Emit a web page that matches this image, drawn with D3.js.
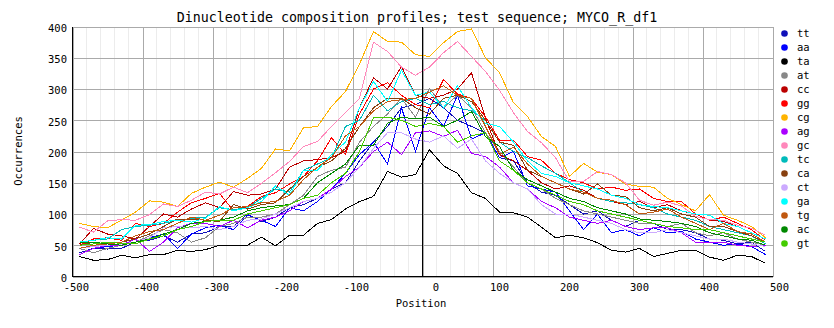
<!DOCTYPE html>
<html>
<head>
<meta charset="utf-8">
<script src="https://cdn.jsdelivr.net/npm/d3@7"></script>
<style>
  html, body { margin: 0; padding: 0; background: #fff; }
  svg { display: block; }
  text { font-family: "DejaVu Sans Mono", "Liberation Mono", monospace; fill: #000; }
</style>
</head>
<body>
<svg id="chart" width="834" height="328"></svg>
<script>
// Window centres (bp relative to the reference point)
const positions = [-490,-470,-450,-430,-410,-390,-370,-350,-330,-310,
                   -290,-270,-250,-230,-210,-190,-170,-150,-130,-110,
                   -90,-70,-50,-30,-10,10,30,50,70,90,
                   110,130,150,170,190,210,230,250,270,290,
                   310,330,350,370,390,410,430,450,470,490];

const dinucleotides = ["tt","aa","ta","at","cc","gg","cg","ag","gc","tc","ca","ct","ga","tg","ac","gt"];
const colors = ["#1010B8","#0000FF","#000000","#888888","#BB0000","#FF0000","#FFB400","#AA00FF",
                "#FF88BB","#00BBBB","#884010","#CCAAFF","#00FFFF","#C05810","#008800","#44CC00"];

// Occurrences per window, one array per dinucleotide
const tt = [38,45,44,45,55,58,65,55,68,70, 80,80,100,88,95,110,115,125,140,150, 185,215,240,270,275,285,270,250,240,230, 190,185,150,135,130,115,100,105,90,80, 90,85,75,75,70,60,58,52,55,40];
const aa = [35,45,48,50,55,62,68,45,68,78, 82,75,98,90,80,110,105,120,140,165, 195,215,180,270,200,270,240,290,220,230, 190,200,145,140,135,105,75,100,70,75, 65,78,70,72,60,55,50,52,48,35];
const ta = [32,26,27,34,30,35,35,42,40,43, 50,49,50,63,49,66,66,85,91,108, 120,128,168,159,163,203,177,165,134,125, 103,102,95,79,62,66,62,54,42,39, 45,32,37,42,42,31,26,34,32,21];
const at = [45,38,45,50,55,65,75,70,55,62, 80,85,95,95,100,115,130,160,170,175, 215,240,260,285,255,301,270,290,270,230, 200,175,150,140,125,115,105,100,95,90, 85,85,80,85,70,65,70,60,55,50];
const cc = [52,77,68,65,60,80,100,95,108,118, 110,136,130,132,140,175,185,187,190,200, 270,318,300,336,290,285,290,300,326,253, 195,185,170,150,140,145,138,125,120,115, 120,110,115,105,100,90,88,80,70,60];
const gg = [50,60,62,58,85,80,85,103,118,125, 133,105,112,128,134,148,160,185,222,195, 260,300,310,290,275,270,315,292,285,255, 218,218,192,186,165,155,150,140,143,138, 140,125,120,120,100,90,95,85,75,58];
const cg = [85,80,78,90,103,121,119,112,133,143, 151,143,157,173,204,201,238,240,272,296, 340,392,376,375,355,352,374,392,396,350, 326,278,256,224,208,160,181,167,163,148, 144,143,125,115,105,131,98,90,80,62];
const ag = [35,45,50,50,60,40,55,78,85,85, 80,90,78,90,95,105,120,125,140,160, 175,200,215,195,230,233,224,234,197,192, 175,150,140,120,110,95,90,85,90,80, 75,78,78,70,55,55,55,50,48,50];
const gc = [79,71,89,91,90,99,116,112,122,135, 132,143,134,149,166,184,208,216,240,262, 285,375,360,335,322,335,358,376,352,328, 298,262,232,214,190,152,152,168,163,150, 122,114,119,113,96,91,90,82,77,66];
const tc = [55,58,60,75,80,82,85,90,93,95, 110,107,110,125,140,135,170,180,190,240, 250,290,265,280,285,275,280,270,265,250, 215,200,190,177,165,150,135,125,120,118, 115,110,100,95,90,80,75,70,65,52];
const ca = [50,55,52,55,60,68,80,92,92,90, 88,115,108,115,118,140,160,175,185,205, 240,270,285,285,270,260,285,290,280,250, 215,210,170,160,150,140,132,148,130,128, 110,105,110,100,95,80,80,72,65,55];
const ct = [45,48,50,52,55,62,78,80,78,80, 75,80,90,92,100,110,120,125,135,150, 175,205,230,230,220,215,225,205,220,185, 165,150,140,115,100,100,95,90,85,75, 70,70,75,70,65,60,60,55,52,48];
const ga = [55,58,62,60,82,83,88,90,87,93, 112,105,110,120,145,130,170,170,195,215, 270,312,280,330,290,295,270,305,270,245, 240,215,185,165,160,150,145,140,130,125, 115,112,110,105,100,98,85,80,70,60];
const tg = [45,50,52,55,65,72,75,85,95,90, 98,110,112,118,120,130,155,175,190,225, 240,265,280,283,285,295,305,290,285,240, 195,207,180,160,150,140,135,125,122,115, 100,103,108,95,85,75,85,72,68,55];
const ac = [55,55,52,50,55,60,68,75,85,88, 90,95,105,110,113,115,125,150,165,180, 210,210,245,255,252,255,240,250,264,224, 208,170,155,145,135,125,120,110,105,100, 92,90,88,85,80,70,65,60,58,50];
const gt = [50,52,55,53,52,60,65,75,80,88, 90,90,100,105,110,115,125,130,150,165, 200,254,255,250,240,245,240,215,225,230, 185,170,150,140,130,120,115,105,100,95, 90,85,80,78,75,75,70,65,60,55];

const seriesValues = [tt,aa,ta,at,cc,gg,cg,ag,gc,tc,ca,ct,ga,tg,ac,gt];

const xTicks = [-500,-400,-300,-200,-100,0,100,200,300,400,500];
const yTicks = [0,50,100,150,200,250,300,350,400];
const title = "Dinucleotide composition profiles; test sequence; MYCO_R_df1";

const svg = d3.select("#chart");
const x = d3.scaleLinear().domain([-500, 500]).range([72.5, 772.5]);
const y = d3.scaleLinear().domain([0, 400]).range([276.5, 26.5]);

// minor vertical grid every 20 bp
const minor = d3.range(-500, 501, 20).filter(v => v % 100 !== 0);
svg.append("g").selectAll("line").data(minor).join("line")
  .attr("x1", d => Math.round(x(d) - 0.5) + 0.5).attr("x2", d => Math.round(x(d) - 0.5) + 0.5)
  .attr("y1", y(400)).attr("y2", y(0))
  .attr("stroke", "#ececec").attr("shape-rendering", "crispEdges");

// major grid
const gx = svg.append("g")
  .attr("transform", `translate(0,${y(0)})`)
  .call(d3.axisBottom(x).tickValues(xTicks).tickSize(-(y(0) - y(400))).tickFormat(""));
const gy = svg.append("g")
  .attr("transform", `translate(${x(-500)},0)`)
  .call(d3.axisLeft(y).tickValues(yTicks).tickSize(-(x(500) - x(-500))).tickFormat(""));
[gx, gy].forEach(g => {
  g.select(".domain").remove();
  g.selectAll("line").attr("stroke", "#aaaaaa").attr("shape-rendering", "crispEdges");
});

// profile lines
const line = d3.line().x((d, i) => x(positions[i])).y(d => y(d));
svg.append("g").selectAll("path").data(seriesValues).join("path")
  .attr("d", d => line(d))
  .attr("fill", "none")
  .attr("stroke", (d, i) => colors[i])
  .attr("stroke-width", 1)
  .attr("shape-rendering", "crispEdges");

// axes lines
svg.append("line").attr("x1", x(-500)).attr("x2", x(-500)).attr("y1", y(400)).attr("y2", y(0) + 0.5)
  .attr("stroke", "#000").attr("shape-rendering", "crispEdges");
svg.append("line").attr("x1", x(-500)).attr("x2", x(500)).attr("y1", y(0)).attr("y2", y(0))
  .attr("stroke", "#000").attr("shape-rendering", "crispEdges");
svg.append("line").attr("x1", x(0)).attr("x2", x(0)).attr("y1", y(400)).attr("y2", y(0))
  .attr("stroke", "#000").attr("shape-rendering", "crispEdges");

// tick labels
svg.append("g").selectAll("text").data(yTicks).join("text")
  .attr("x", 67).attr("y", d => y(d) + 5.3)
  .attr("text-anchor", "end").attr("font-size", "10.5px")
  .text(d => d);
svg.append("g").selectAll("text").data(xTicks).join("text")
  .attr("x", d => x(d) + 16.5).attr("y", 291)
  .attr("text-anchor", "end").attr("font-size", "10.5px")
  .text(d => d);

// titles
svg.append("text").attr("x", 417).attr("y", 22).attr("text-anchor", "middle")
  .attr("font-size", "13.3px").text(title);
svg.append("text").attr("x", 421).attr("y", 307).attr("text-anchor", "middle")
  .attr("font-size", "10.5px").text("Position");
svg.append("text").attr("transform", "translate(22,151) rotate(-90)")
  .attr("text-anchor", "middle").attr("font-size", "10.5px").text("Occurrences");

// legend
const legend = svg.append("g").selectAll("g").data(dinucleotides).join("g")
  .attr("transform", (d, i) => `translate(0,${33.5 + 14 * i})`);
legend.append("circle").attr("cx", 784.5).attr("cy", 0).attr("r", 3.3)
  .attr("fill", (d, i) => colors[i]);
legend.append("text").attr("x", 797).attr("y", 3.8).attr("font-size", "10.5px").text(d => d);
</script>
</body>
</html>
